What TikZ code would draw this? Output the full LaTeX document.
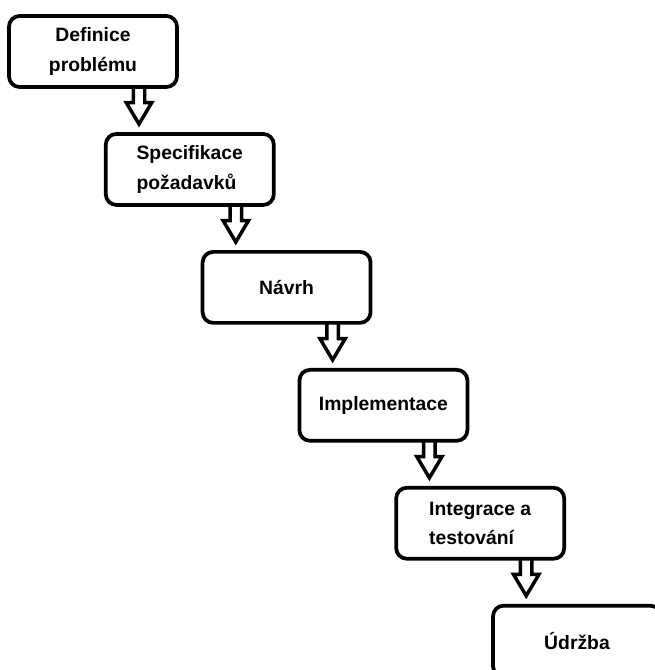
\documentclass[tikz,border=0pt]{standalone}
\usepackage{fontspec}
\setmainfont{Liberation Sans}
\usetikzlibrary{positioning,calc}

\begin{document}
\begin{tikzpicture}[x=0.75pt, y=-0.75pt, node distance=32.4pt and -56.2pt,
   stepbox/.style={draw, rectangle, line width=2.8pt, rounded corners=8pt, minimum width=126pt, minimum height=53.25pt, inner sep=0pt, font=\fontsize{14.5}{22}\selectfont\bfseries},
   blockarrow/.style={line width=2.6pt, to path={let \p1=(\tikztostart), \p2=(\tikztotarget) in
      (\x1-4.3pt,\y1) -- (\x1-4.3pt,\y2+16pt) -- (\x1-9.5pt,\y2+16pt) -- (\x1,\y2) -- (\x1+9.5pt,\y2+16pt) -- (\x1+4.3pt,\y2+16pt) -- (\x1+4.3pt,\y1)}}
]
\useasboundingbox (0,0) rectangle (655,670);
\clip (0,0) rectangle (655,670);

% Nodes
\node [stepbox, align=center] (step1) at (93,51.5) {Definice\\problému};
\node [stepbox, align=left, below right=of step1] (step2) {Specifikace\\požadavků};
\node [stepbox, below right=of step2] (step3) {Návrh};
\node [stepbox, below right=of step3] (step4) {Implementace};
\node [stepbox, align=left, below right=of step4] (step5) {Integrace a\\testování};
\node [stepbox, below right=of step5] (step6) {Údržba};

% Connections
\draw [blockarrow] ([xshift=34.5pt,yshift=1.5pt]step1.south) to ([yshift=6pt]step2.north);
\draw [blockarrow] ([xshift=34.5pt,yshift=1.5pt]step2.south) to ([yshift=6pt]step3.north);
\draw [blockarrow] ([xshift=34.5pt,yshift=1.5pt]step3.south) to ([yshift=6pt]step4.north);
\draw [blockarrow] ([xshift=34.5pt,yshift=1.5pt]step4.south) to ([yshift=6pt]step5.north);
\draw [blockarrow] ([xshift=34.5pt,yshift=1.5pt]step5.south) to ([yshift=6pt]step6.north);

\end{tikzpicture}
\end{document}
